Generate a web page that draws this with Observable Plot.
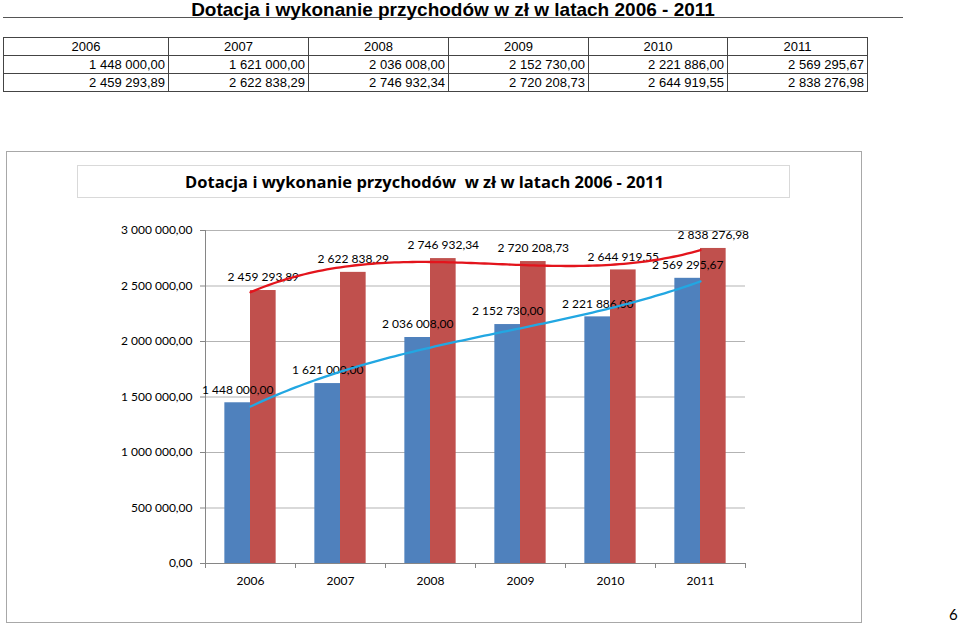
<!DOCTYPE html>
<html>
<head>
<meta charset="utf-8">
<script src="https://cdn.jsdelivr.net/npm/d3@7"></script>
<script src="https://cdn.jsdelivr.net/npm/@observablehq/plot@0.6"></script>
<style>
  html, body { margin: 0; padding: 0; background: #fff; }
  body { width: 960px; height: 627px; position: relative; overflow: hidden; }
  #pagetitle { position: absolute; left: 3px; top: 0; width: 900px; height: 17px;
    border-bottom: 1.5px solid #555; text-align: center;
    font: bold 19px "Liberation Sans", Arial, sans-serif; line-height: 19px; color: #000; }
  #tbl { position: absolute; left: 3px; top: 37px; border-collapse: collapse;
    font: 13px "Liberation Sans", Arial, sans-serif; color: #000; }
  #tbl td { border: 1px solid #444; height: 17px; padding: 0 3px 0 0; line-height: 17px; }
  #tbl tr.head td { text-align: center; padding: 0; }
  #tbl tr.val td { text-align: right; }
  #chart { position: absolute; left: 6px; top: 151px; width: 856px; height: 472px; }
  #frame { position: absolute; left: 0; top: 0; width: 856px; height: 472px; box-sizing: border-box;
    border: 1.5px solid #a8a8a8; pointer-events: none; }
  #ctitle { position: absolute; left: 71px; top: 14px; width: 713px; height: 33px; box-sizing: border-box;
    border: 1.5px solid #d9d9d9; display: flex; align-items: center; justify-content: center;
    padding-right: 18px; font: bold 16.5px "Open Sans", sans-serif; color: #000; white-space: pre; }
  #pagenum { position: absolute; left: 949px; top: 605px; font: 15px Lato, sans-serif; color: #000; }
</style>
</head>
<body>
<div id="pagetitle">Dotacja i wykonanie przychodów w zł w latach 2006 - 2011</div>
<table id="tbl"></table>
<div id="chart">
  <div id="ctitle">Dotacja i wykonanie przychodów  w zł w latach 2006 - 2011</div>
  <div id="frame"></div>
</div>
<div id="pagenum">6</div>
<script>
const years = ["2006", "2007", "2008", "2009", "2010", "2011"];
const dotacja = [1448000.00, 1621000.00, 2036008.00, 2152730.00, 2221886.00, 2569295.67];
const wykonanie = [2459293.89, 2622838.29, 2746932.34, 2720208.73, 2644919.55, 2838276.98];
const yTicks = [0, 500000, 1000000, 1500000, 2000000, 2500000, 3000000];
const colWidths = [165, 140, 140, 140, 139, 140];

const fmt = v => d3.format(",.2f")(v).replace(/,/g, " ").replace(".", ",");

// table
const tbl = document.getElementById("tbl");
function addRow(cls, cells) {
  const tr = document.createElement("tr");
  tr.className = cls;
  cells.forEach((c, i) => {
    const td = document.createElement("td");
    td.textContent = c;
    td.style.width = (colWidths[i] - 4) + "px";
    tr.appendChild(td);
  });
  tbl.appendChild(tr);
}
addRow("head", years);
addRow("val", dotacja.map(fmt));
addRow("val", wykonanie.map(fmt));

// polynomial trendline (least squares) like Excel
function polyfit(xs, ys, order) {
  const n = order + 1;
  const A = Array.from({length: n}, () => new Array(n + 1).fill(0));
  for (let r = 0; r < n; r++) {
    for (let c = 0; c < n; c++) A[r][c] = d3.sum(xs, x => Math.pow(x, r + c));
    A[r][n] = d3.sum(xs.map((x, k) => Math.pow(x, r) * ys[k]));
  }
  for (let i = 0; i < n; i++) {
    let p = i;
    for (let k = i + 1; k < n; k++) if (Math.abs(A[k][i]) > Math.abs(A[p][i])) p = k;
    [A[i], A[p]] = [A[p], A[i]];
    for (let k = i + 1; k < n; k++) {
      const f = A[k][i] / A[i][i];
      for (let j = i; j <= n; j++) A[k][j] -= f * A[i][j];
    }
  }
  const coef = new Array(n).fill(0);
  for (let i = n - 1; i >= 0; i--) {
    let s = A[i][n];
    for (let j = i + 1; j < n; j++) s -= A[i][j] * coef[j];
    coef[i] = s / A[i][i];
  }
  return x => coef.reduce((acc, c, k) => acc + c * Math.pow(x, k), 0);
}

const idx = d3.range(years.length);
const blue = idx.map(i => ({i, v: dotacja[i]}));
const red = idx.map(i => ({i, v: wykonanie[i]}));
const fB = polyfit(idx, dotacja, 3);
const fR = polyfit(idx, wykonanie, 3);
const samples = d3.range(0, years.length - 1 + 1e-9, 0.05);
const trendB = samples.map(x => ({x, v: fB(x)}));
const trendR = samples.map(x => ({x, v: fR(x)}));
const bw = 0.285;
const boundaries = d3.range(-0.5, years.length, 1);

const chart = Plot.plot({
  width: 856,
  height: 472,
  marginLeft: 199,
  marginRight: 117,
  marginTop: 79,
  marginBottom: 60,
  style: {background: "none", fontFamily: "Lato, sans-serif", fontSize: "12px", color: "#000"},
  x: {type: "linear", domain: [-0.5, years.length - 0.5], axis: null},
  y: {domain: [0, 3000000], axis: null},
  marks: [
    Plot.gridY(yTicks, {stroke: "#b3b3b3", strokeOpacity: 1}),
    Plot.rectY(blue, {x1: d => d.i - bw, x2: d => d.i, y: "v", fill: "#4F81BD"}),
    Plot.rectY(red, {x1: d => d.i, x2: d => d.i + bw, y: "v", fill: "#C0504D"}),
    Plot.ruleX([-0.5], {stroke: "#868686"}),
    Plot.ruleY([0], {stroke: "#868686"}),
    Plot.axisY(yTicks, {anchor: "left", tickFormat: fmt, tickSize: 5, tickPadding: 8, stroke: "#868686", fill: "#000", fontSize: 12, label: null}),
    Plot.axisX(boundaries, {anchor: "bottom", tickFormat: () => "", tickSize: 5, stroke: "#868686", label: null}),
    Plot.axisX(idx, {anchor: "bottom", tickFormat: i => years[i], tickSize: 0, tickPadding: 13, fill: "#000", fontSize: 12, label: null}),
    Plot.text(blue, {x: d => d.i - bw / 2, y: "v", text: d => fmt(d.v), dy: -13, fontSize: 12, fill: "#000"}),
    Plot.text(red, {x: d => d.i + bw / 2, y: "v", text: d => fmt(d.v), dy: -13, fontSize: 12, fill: "#000"}),
    Plot.line(trendB, {x: "x", y: "v", stroke: "#22A7E2", strokeWidth: 2.3, curve: "linear"}),
    Plot.line(trendR, {x: "x", y: "v", stroke: "#E3141C", strokeWidth: 2.3, curve: "linear"})
  ]
});
chart.style.position = "absolute";
chart.style.left = "0px";
chart.style.top = "0px";
const host = document.getElementById("chart");
host.insertBefore(chart, host.firstChild);
</script>
</body>
</html>
